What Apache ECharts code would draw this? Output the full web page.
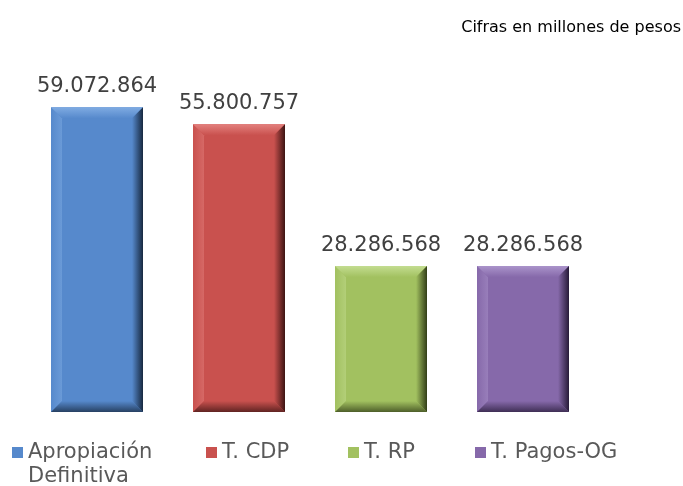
<!DOCTYPE html>
<html>
<head>
<meta charset="utf-8">
<script src="https://cdn.jsdelivr.net/npm/echarts@6/dist/echarts.min.js"></script>
<style>
  html, body { margin: 0; padding: 0; background: #fff; }
  #chart { width: 683px; height: 486px; }
</style>
</head>
<body>
<div id="chart"></div>
<script>
const categories = ["Apropiación Definitiva", "T. CDP", "T. RP", "T. Pagos-OG"];
const values = [59072864, 55800757, 28286568, 28286568];
// base, light, dark
const colors = [
  ["#5689cc", "#7fabe2", "#17283f"],
  ["#c9514e", "#e3807d", "#3d1413"],
  ["#a2c160", "#c3dc90", "#323e18"],
  ["#8669aa", "#aa93ca", "#271b38"]
];
const legendLeft = [12, 206, 348, 475];

function fmt(v) {
  return String(v).replace(/\B(?=(\d{3})+(?!\d))/g, ".");
}

const chart = echarts.init(document.getElementById("chart"));

function bevelBar(c) {
  return function (params, api) {
    const i = api.value(0);
    const v = api.value(1);
    const top = api.coord([i, v]);
    const base = api.coord([i, 0]);
    const w = 92, b = 11;
    const x0 = top[0] - w / 2, x1 = x0 + w;
    const y0 = top[1], y1 = base[1];
    return {
      type: "group",
      children: [
        { type: "rect", shape: { x: x0, y: y0, width: w, height: y1 - y0 }, style: { fill: c[0] } },
        { type: "polygon", shape: { points: [[x0, y0], [x0 + b, y0 + b], [x0 + b, y1 - b], [x0, y1]] },
          style: { fill: new echarts.graphic.LinearGradient(0, 0, 1, 0, [{ offset: 0, color: c[0] }, { offset: 1, color: c[1] }]), opacity: 0.5 } },
        { type: "polygon", shape: { points: [[x0, y0], [x1, y0], [x1 - b, y0 + b], [x0 + b, y0 + b]] },
          style: { fill: new echarts.graphic.LinearGradient(0, 0, 0, 1, [{ offset: 0, color: c[1] }, { offset: 1, color: c[0] }]) } },
        { type: "polygon", shape: { points: [[x0, y1], [x1, y1], [x1 - b, y1 - b], [x0 + b, y1 - b]] },
          style: { fill: new echarts.graphic.LinearGradient(0, 0, 0, 1, [{ offset: 0, color: c[0] }, { offset: 1, color: c[2] }]), opacity: 0.75 } },
        { type: "polygon", shape: { points: [[x1, y0], [x1 - b, y0 + b], [x1 - b, y1 - b], [x1, y1]] },
          style: { fill: new echarts.graphic.LinearGradient(0, 0, 1, 0, [{ offset: 0, color: c[0] }, { offset: 1, color: c[2] }]) } },
        { type: "text", style: { x: top[0], y: y0 - 10, text: fmt(v), textAlign: "center", textVerticalAlign: "bottom",
          fontFamily: "DejaVu Sans", fontSize: 21, fill: "#404040" } }
      ]
    };
  };
}

const series = categories.map((name, i) => ({
  name: name,
  type: "custom",
  renderItem: bevelBar(colors[i]),
  itemStyle: { color: colors[i][0] },
  data: [[i, values[i]]]
}));

const legends = categories.map((name, i) => ({
  data: [name],
  left: legendLeft[i],
  top: 442,
  padding: 0,
  icon: "rect",
  itemWidth: 11,
  itemHeight: 11,
  selectedMode: false,
  formatter: n => n.split(" ")[0] === "Apropiación" ? "Apropiación" : n,
  textStyle: {
    fontFamily: "DejaVu Sans",
    fontSize: 21,
    color: "#595959"
  }
}));

chart.setOption({
  animation: false,
  title: {
    text: "Cifras en millones de pesos",
    right: -3,
    top: 15,
    textStyle: {
      fontFamily: "DejaVu Sans",
      fontSize: 16,
      fontWeight: "normal",
      color: "#000"
    }
  },
  legend: legends,
  graphic: [{
    type: "text",
    left: 28,
    top: 466,
    style: { text: "Definitiva", fontFamily: "DejaVu Sans", fontSize: 21, fill: "#595959" }
  }],
  grid: { left: 26, right: 89, top: 51, bottom: 74 },
  xAxis: {
    type: "category",
    data: categories,
    axisLine: { show: false },
    axisTick: { show: false },
    axisLabel: { show: false }
  },
  yAxis: {
    type: "value",
    min: 0,
    max: 70000000,
    show: false,
    splitLine: { show: false }
  },
  series: series
});
</script>
</body>
</html>
